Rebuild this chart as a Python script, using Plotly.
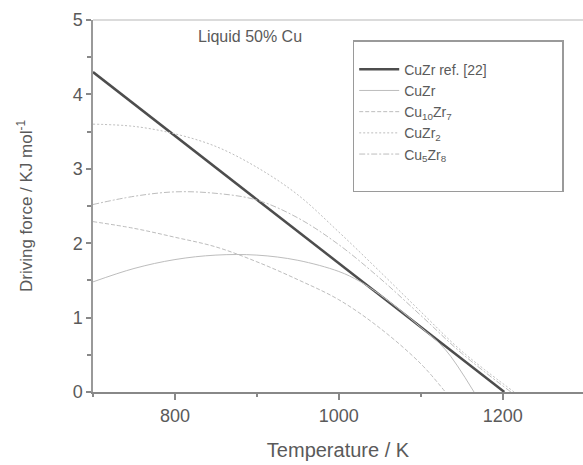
import plotly.graph_objects as go

# ---- data ----
ref_T = [700, 1202]
ref_y = [4.30, 0.0]

cuzr_T = [700, 750, 800, 850, 900, 950, 1000, 1025, 1050, 1075, 1100, 1130, 1165]
cuzr_y = [1.48, 1.66, 1.78, 1.84, 1.84, 1.77, 1.62, 1.49, 1.31, 1.10, 0.87, 0.57, 0.0]

cu10zr7_T = [700, 750, 800, 850, 900, 950, 1000, 1050, 1100, 1130]
cu10zr7_y = [2.29, 2.20, 2.08, 1.95, 1.75, 1.51, 1.24, 0.86, 0.38, 0.0]

cuzr2_T = [700, 750, 800, 850, 900, 950, 1000, 1050, 1100, 1150, 1214]
cuzr2_y = [3.60, 3.57, 3.47, 3.30, 3.02, 2.65, 2.15, 1.62, 1.08, 0.55, 0.0]

cu5zr8_T = [700, 750, 800, 850, 900, 950, 1000, 1050, 1100, 1150, 1210]
cu5zr8_y = [2.52, 2.63, 2.69, 2.67, 2.58, 2.34, 1.98, 1.53, 1.03, 0.52, 0.0]

x_ticks = [800, 1000, 1200]
y_ticks = [0, 1, 2, 3, 4, 5]

FONT = "Liberation Sans, Arial, sans-serif"
TXT = "#5a5a5a"
LIGHT = "#bdbdbd"
PAD = "&nbsp;" * 18

fig = go.Figure()
fig.add_trace(go.Scatter(x=ref_T, y=ref_y, mode="lines", name="CuZr ref. [22]" + PAD,
                         line=dict(color="#4d4d4d", width=2.5)))
fig.add_trace(go.Scatter(x=cuzr_T, y=cuzr_y, mode="lines", name="CuZr",
                         line=dict(color=LIGHT, width=1, shape="spline")))
fig.add_trace(go.Scatter(x=cu10zr7_T, y=cu10zr7_y, mode="lines",
                         name="Cu<sub>10</sub>Zr<sub>7</sub>",
                         line=dict(color=LIGHT, width=1, dash="4px,2px", shape="spline")))
fig.add_trace(go.Scatter(x=cuzr2_T, y=cuzr2_y, mode="lines",
                         name="CuZr<sub>2</sub>",
                         line=dict(color=LIGHT, width=1, dash="2px,2px", shape="spline")))
fig.add_trace(go.Scatter(x=cu5zr8_T, y=cu5zr8_y, mode="lines",
                         name="Cu<sub>5</sub>Zr<sub>8</sub>",
                         line=dict(color=LIGHT, width=1, dash="6px,2px,2px,2px", shape="spline")))
# blank legend row (bottom padding of the legend box)
fig.add_trace(go.Scatter(x=[None], y=[None], mode="lines", name=" ",
                         line=dict(color="rgba(0,0,0,0)", width=0), hoverinfo="skip"))

fig.update_layout(
    width=583, height=465,
    margin=dict(l=93, r=0, t=20, b=73),
    paper_bgcolor="white", plot_bgcolor="white",
    font=dict(family=FONT, color=TXT, size=18),
    showlegend=True,
    legend=dict(x=0.53, y=0.945, xanchor="left", yanchor="top",
                bordercolor="#9a9a9a", borderwidth=1.5, bgcolor="white",
                font=dict(size=14, color=TXT, family=FONT),
                title=dict(text=" ", font=dict(size=9)),
                itemwidth=40, tracegroupgap=0),
    annotations=[dict(text="Liquid 50% Cu", x=0.32, y=0.955, xref="paper", yref="paper",
                      showarrow=False, font=dict(size=16, color=TXT, family=FONT),
                      xanchor="center", yanchor="middle")],
)

fig.update_xaxes(range=[700, 1298], tickvals=x_ticks, ticks="outside", ticklen=6,
                 tickcolor="#888", tickwidth=1.5,
                 minor=dict(dtick=100, tick0=700, ticks="outside", ticklen=3,
                            tickcolor="#888", tickwidth=1.5),
                 showline=True, linecolor="#888", linewidth=2, mirror=False,
                 showgrid=False, zeroline=False,
                 title=dict(text="Temperature / K", standoff=18, font=dict(size=20)),
                 tickfont=dict(size=18))
fig.update_yaxes(range=[0, 5], tickvals=y_ticks, ticks="outside", ticklen=5,
                 tickcolor="#888", tickwidth=1.5,
                 minor=dict(dtick=0.5, ticks="outside", ticklen=4,
                            tickcolor="#888", tickwidth=1.5),
                 showline=True, linecolor="#999", linewidth=1.5, mirror=False,
                 showgrid=False, zeroline=False,
                 title=dict(text="Driving force / KJ mol<sup>-1</sup>", standoff=36,
                            font=dict(size=17)),
                 tickfont=dict(size=18))

# light top frame line (mirror)
fig.add_shape(type="line", xref="paper", yref="paper", x0=0, x1=1, y0=1, y1=1,
              line=dict(color="#cfcfcf", width=1.5))

fig.write_html("out.html")
